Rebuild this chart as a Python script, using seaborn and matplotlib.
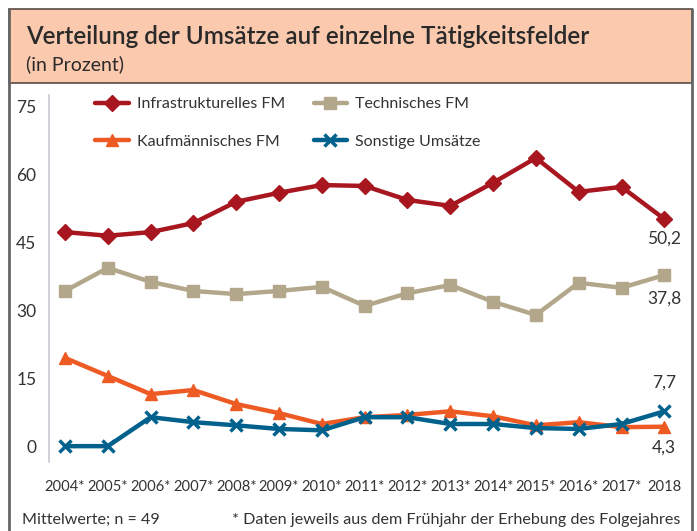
import pandas as pd
import matplotlib
matplotlib.use("Agg")
import matplotlib.pyplot as plt
from matplotlib.patches import Rectangle
from matplotlib.lines import Line2D
import seaborn as sns

years = ["2004*", "2005*", "2006*", "2007*", "2008*", "2009*", "2010*", "2011*",
         "2012*", "2013*", "2014*", "2015*", "2016*", "2017*", "2018"]
infra = [47.3, 46.5, 47.3, 49.3, 54.0, 56.0, 57.7, 57.5, 54.4, 53.1, 58.2, 63.7, 56.2, 57.3, 50.2]
technisch = [34.3, 39.4, 36.3, 34.3, 33.6, 34.3, 35.2, 31.0, 33.8, 35.6, 31.9, 29.0, 36.1, 35.0, 37.8]
kaufm = [19.5, 15.5, 11.5, 12.4, 9.3, 7.3, 4.9, 6.4, 6.9, 7.7, 6.6, 4.6, 5.3, 4.2, 4.3]
sonstige = [0.0, 0.0, 6.4, 5.3, 4.6, 3.8, 3.5, 6.4, 6.4, 4.9, 4.9, 4.0, 3.8, 4.9, 7.7]
yticks = [0, 15, 30, 45, 60, 75]

series = {
    "Infrastrukturelles FM": (infra, "#A8161F", "D", 8),
    "Technisches FM": (technisch, "#B3A78B", "s", 8.5),
    "Kaufmännisches FM": (kaufm, "#EE5A24", "^", 9),
    "Sonstige Umsätze": (sonstige, "#00628C", "x", 8),
}
end_labels = {"Infrastrukturelles FM": ("50,2", -14), "Technisches FM": ("37,8", -17),
              "Kaufmännisches FM": ("4,3", -15), "Sonstige Umsätze": ("7,7", 21)}

sns.set_style("white")
plt.rcParams["font.family"] = ["Lato", "DejaVu Sans"]
txt = "#333333"

W, H = 697, 531
fig = plt.figure(figsize=(W / 100, H / 100), dpi=100)

# frame and title box
frame = "#666666"
fig.add_artist(Rectangle((9 / W, 1 - 83 / H), 683 / W, 74 / H, transform=fig.transFigure,
                         facecolor="#FBCAAE", edgecolor="#5a4a44", linewidth=1.2))
fig.add_artist(Line2D([9 / W, 9 / W], [0, 1 - 9 / H], transform=fig.transFigure, color=frame, lw=2))
fig.add_artist(Line2D([692 / W, 692 / W], [0, 1 - 9 / H], transform=fig.transFigure, color=frame, lw=2))
fig.text(26 / W, 1 - 36 / H, "Verteilung der Umsätze auf einzelne Tätigkeitsfelder",
         fontsize=17.5, fontweight="semibold", color="#2a2a2a", va="center", ha="left")
fig.text(26 / W, 1 - 64 / H, "(in Prozent)", fontsize=14, color="#2a2a2a", va="center", ha="left")

ax = fig.add_axes([49 / W, 1 - 462 / H, (690 - 49) / W, (462 - 95) / H])

df = pd.DataFrame({"Jahr": years * 4,
                   "Wert": infra + technisch + kaufm + sonstige,
                   "Reihe": sum([[k] * len(years) for k in series], [])})

handles = {}
for name, (vals, col, mk, ms) in series.items():
    sub = df[df["Reihe"] == name]
    sns.lineplot(data=sub, x="Jahr", y="Wert", ax=ax, color=col, lw=3.2, marker=mk,
                 markersize=ms, markeredgecolor=col, markerfacecolor=col,
                 markeredgewidth=2.5 if mk == "x" else 1, sort=False)
    handles[name] = Line2D([], [], color=col, lw=3.2, marker=mk, markersize=ms,
                           markeredgecolor=col, markerfacecolor=col,
                           markeredgewidth=2.5 if mk == "x" else 1)
    lab, dy = end_labels[name]
    ax.annotate(lab, (len(years) - 1, vals[-1]), xytext=(0, dy), textcoords="offset points",
                ha="center", va="center", fontsize=12.5, color=txt)

ax.set_xlim(-0.374, 14.6)
ax.set_ylim(-3.5, 77.6)
ax.set_yticks(yticks)
ax.set_yticklabels([str(v) for v in yticks], fontsize=12.5, color=txt)
ax.set_xticks(range(len(years)))
ax.set_xticklabels(years, fontsize=10.6, color=txt)
ax.tick_params(axis="y", length=0, pad=9)
ax.tick_params(axis="x", length=0, pad=13)
ax.set_xlabel("")
ax.set_ylabel("")
for s in ["top", "right", "bottom"]:
    ax.spines[s].set_visible(False)
ax.spines["left"].set_color("#C9C9D2")
ax.spines["left"].set_linewidth(1.2)
if ax.get_legend():
    ax.get_legend().remove()

order = ["Infrastrukturelles FM", "Kaufmännisches FM", "Technisches FM", "Sonstige Umsätze"]
fig.legend([handles[k] for k in order], order, ncol=2, frameon=False,
           loc="upper left", bbox_to_anchor=(95 / W, 1 - 97 / H), fontsize=11.5,
           handlelength=2.1, handletextpad=0.5, columnspacing=1.8, labelspacing=1.45,
           borderpad=0, borderaxespad=0, labelcolor=txt)

fig.text(22 / W, 1 - 520 / H, "Mittelwerte; n = 49", fontsize=11.6, color=txt, va="center")
fig.text(232 / W, 1 - 520 / H, "* Daten jeweils aus dem Frühjahr der Erhebung des Folgejahres",
         fontsize=11.6, color=txt, va="center")

fig.savefig("out.png", dpi=100)
